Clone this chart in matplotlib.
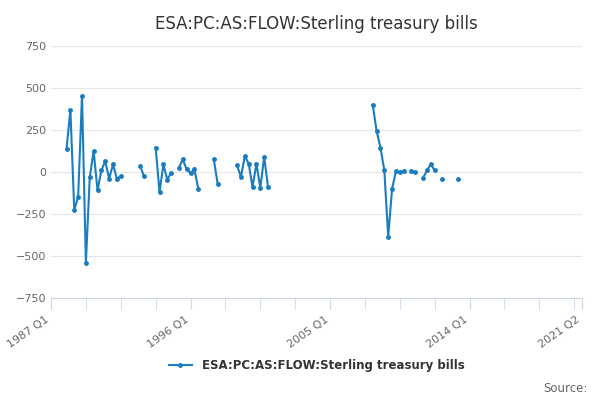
import matplotlib.pyplot as plt
import numpy as np

title = "ESA:PC:AS:FLOW:Sterling treasury bills"
n_quarters = 138  # 1987 Q1 .. 2021 Q2

# (start quarter index, values) for each run of consecutive quarters
segments = [
    (4, [135, 370, -225, -150, 455, -540, -30, 125, -110, 10, 65, -40, 45, -40, -25]),
    (23, [35, -25]),
    (27, [145, -120, 45, -45, -5]),
    (33, [25, 75, 15, -5, 15, -100]),
    (42, [75, -70]),
    (48, [40, -30, 95, 50, -90, 50, -95, 90, -90]),
    (83, [400, 245, 145, 10, -385, -100, 5, 0, 5]),
    (93, [5, 0]),
    (96, [-35, 10, 45, 10]),
    (101, [-40]),
    (105, [-40]),
]
tick_labels = ["1987 Q1", "1996 Q1", "2005 Q1", "2014 Q1", "2021 Q2"]
tick_pos = [0, 36, 72, 108, 137]

vals = np.full(n_quarters, np.nan)
for start, v in segments:
    vals[start:start + len(v)] = v

color = "#1a7dc0"
fig, ax = plt.subplots(figsize=(6, 4), dpi=100)
fig.subplots_adjust(left=0.085, right=0.97, top=0.885, bottom=0.255)
ax.plot(np.arange(n_quarters), vals, color=color, lw=1.5, marker="o", ms=2.5,
        label=title)

ax.set_title(title, fontsize=12, color="#333333", pad=12)
ax.set_xlim(0, 137)
ax.set_ylim(-750, 750)
ax.set_yticks(range(-750, 751, 250))
ax.set_xticks(tick_pos)
ax.set_xticklabels(tick_labels, rotation=35, ha="right", fontsize=8, color="#666666")
ax.set_xticks(np.arange(0, 138, 9), minor=True)
ax.tick_params(axis="y", length=0, labelsize=8, labelcolor="#666666")
ax.tick_params(axis="x", which="both", color="#ccd6eb", length=8)
ax.grid(axis="y", color="#e6e6e6")
for s in ["top", "right", "left"]:
    ax.spines[s].set_visible(False)
ax.spines["bottom"].set_color("#ccd6eb")

ax.legend(loc="upper center", bbox_to_anchor=(0.5, -0.2), frameon=False,
          prop={"weight": "bold", "size": 8.5}, labelcolor="#333333")
fig.text(0.98, 0.02, "Source:", ha="right", fontsize=8.5, color="#666666")
fig.savefig("out.png")
